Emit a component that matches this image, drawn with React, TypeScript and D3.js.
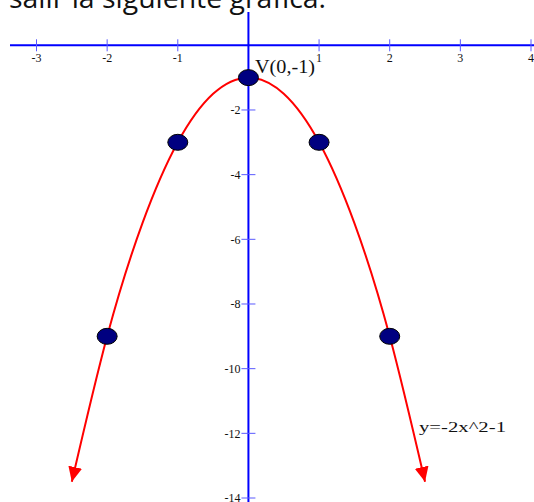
import React from "react";
import * as d3 from "d3";

const xTicks = [-3, -2, -1, 1, 2, 3, 4];
const yTicks = [-2, -4, -6, -8, -10, -12, -14];
const curveX = [-2.5, -2, -1.5, -1, -0.5, 0, 0.5, 1, 1.5, 2, 2.5];
const curveY = [-13.5, -9, -5.5, -3, -1.5, -1, -1.5, -3, -5.5, -9, -13.5];
const pointX = [-2, -1, 0, 1, 2];
const pointY = [-9, -3, -1, -3, -9];
const vertexLabel = "V(0,-1)";
const funcLabel = "y=-2x^2-1";
const headerText = "salir la siguiente gráfica:";

const W = 534;
const H = 502;

export default function App() {
  const x = d3.scaleLinear().domain([-3, 4]).range([36.5, 531]);
  const y = d3.scaleLinear().domain([0, -14]).range([45.3, 498]);
  const pts: [number, number][] = curveX.map((v, i) => [v, curveY[i]]);
  const line = d3
    .line<[number, number]>()
    .x((d) => x(d[0]))
    .y((d) => y(d[1]))
    .curve(d3.curveNatural);
  const x0 = x(0);
  const y0 = y(0);
  return (
    <svg
      width={W}
      height={H}
      style={{ position: "absolute", left: 0, top: 0, background: "#fff" }}
    >
      <defs>
        <marker
          id="arr"
          markerUnits="userSpaceOnUse"
          markerWidth={16}
          markerHeight={14}
          refX={15}
          refY={7}
          orient="auto-start-reverse"
          viewBox="0 0 16 14"
        >
          <path d="M0,0 L15,7 L0,14 Z" fill="#ff0000" />
        </marker>
      </defs>
      <text
        x={9}
        y={8}
        fontFamily="'Open Sans', sans-serif"
        fontSize={27}
        fill="#111"
        textLength={317}
        lengthAdjust="spacingAndGlyphs"
      >
        {headerText}
      </text>
      {/* axes */}
      <line x1={10} x2={W} y1={y0} y2={y0} stroke="#0000ff" strokeWidth={2} />
      <line x1={x0} x2={x0} y1={12} y2={H} stroke="#0000ff" strokeWidth={2} />
      {xTicks.map((t) => (
        <g key={"x" + t}>
          <line x1={x(t)} x2={x(t)} y1={y0 - 6} y2={y0 + 6} stroke="#5a5aff" strokeWidth={1} />
          <text
            x={x(t)}
            y={62}
            textAnchor="middle"
            fontFamily="'Liberation Serif', serif"
            fontSize={12}
            fill="#111"
          >
            {t}
          </text>
        </g>
      ))}
      {yTicks.map((t) => (
        <g key={"y" + t}>
          <line x1={x0 - 7} x2={x0 + 7} y1={y(t)} y2={y(t)} stroke="#5a5aff" strokeWidth={1} />
          <text
            x={x0 - 8}
            y={y(t)}
            dy="0.35em"
            textAnchor="end"
            fontFamily="'Liberation Serif', serif"
            fontSize={12}
            fill="#111"
          >
            {t}
          </text>
        </g>
      ))}
      {/* curve */}
      <path
        d={line(pts) || ""}
        fill="none"
        stroke="#ff0000"
        strokeWidth={2}
        markerStart="url(#arr)"
        markerEnd="url(#arr)"
      />
      {pointX.map((v, i) => (
        <ellipse
          key={"p" + i}
          cx={x(v)}
          cy={y(pointY[i])}
          rx={10}
          ry={8}
          fill="#000080"
          stroke="#000"
          strokeWidth={1}
        />
      ))}
      <text
        x={255}
        y={73}
        fontFamily="'Liberation Serif', serif"
        fontSize={19}
        fill="#111"
        textLength={60}
        lengthAdjust="spacingAndGlyphs"
      >
        {vertexLabel}
      </text>
      <text
        x={419}
        y={432}
        fontFamily="'Liberation Serif', serif"
        fontSize={15}
        fill="#111"
        textLength={87}
        lengthAdjust="spacingAndGlyphs"
      >
        {funcLabel}
      </text>
    </svg>
  );
}
